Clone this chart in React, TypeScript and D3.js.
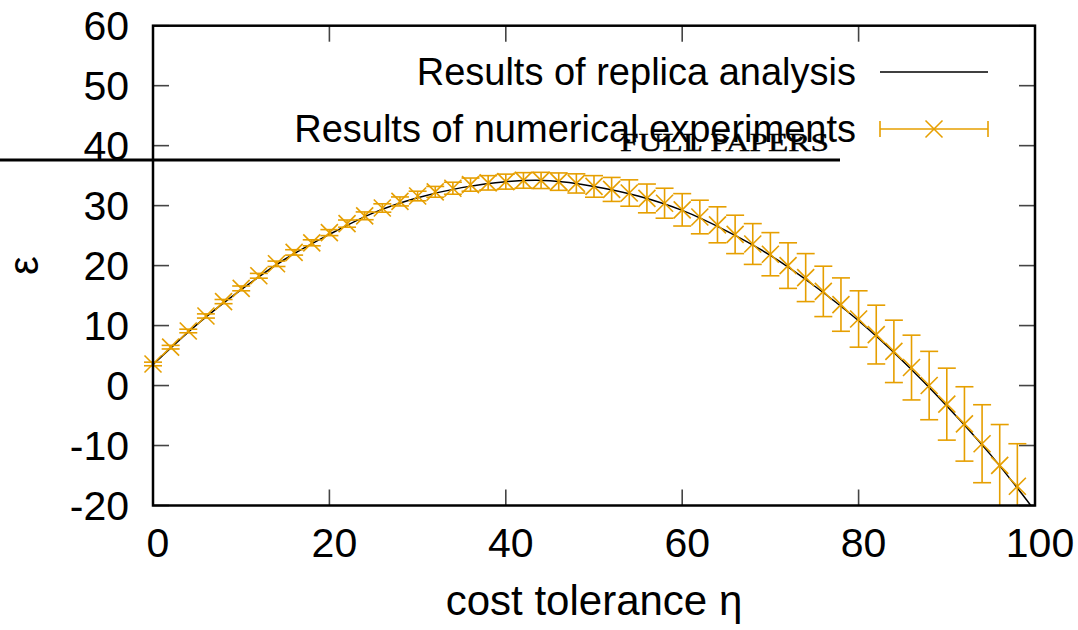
import React from "react";
import * as d3 from "d3";

// ---------- data ----------
const expEta = [0, 2, 4, 6, 8, 10, 12, 14, 16, 18, 20, 22, 24, 26, 28, 30, 32, 34, 36, 38, 40, 42, 44, 46, 48, 50, 52, 54, 56, 58, 60, 62, 64, 66, 68, 70, 72, 74, 76, 78, 80, 82, 84, 86, 88, 90, 92, 94, 96, 98];
const expEps = [3.6, 6.4, 9.1, 11.6, 14.0, 16.2, 18.3, 20.3, 22.2, 23.8, 25.5, 27.0, 28.3, 29.6, 30.7, 31.6, 32.3, 32.9, 33.5, 33.8, 34.0, 34.2, 34.2, 34.0, 33.7, 33.2, 32.7, 32.1, 31.2, 30.4, 29.3, 28.1, 26.8, 25.2, 23.6, 21.9, 20.0, 18.0, 15.7, 13.5, 11.1, 8.5, 5.7, 3.0, 0.0, -3.1, -6.4, -9.7, -13.3, -16.8];
const expErr = [0.3, 0.3, 0.3, 0.35, 0.35, 0.4, 0.4, 0.45, 0.45, 0.5, 0.5, 0.6, 0.65, 0.7, 0.75, 0.8, 0.9, 1.0, 1.1, 1.2, 1.25, 1.3, 1.35, 1.45, 1.6, 1.8, 2.0, 2.2, 2.4, 2.5, 2.7, 2.8, 3.0, 3.2, 3.4, 3.6, 3.8, 4.0, 4.2, 4.45, 4.7, 4.9, 5.2, 5.4, 5.7, 6.0, 6.2, 6.5, 6.8, 7.1];

const replicaEta = [0, 5, 10, 15, 20, 25, 30, 35, 40, 45, 50, 55, 60, 65, 70, 75, 80, 85, 90, 95, 100];
const replicaEps = [3.5, 10.2, 16.0, 21.1, 25.2, 28.8, 31.3, 33.0, 34.0, 34.15, 33.2, 31.6, 29.2, 25.8, 21.7, 16.6, 10.8, 4.1, -3.4, -11.6, -20.9];

const xTicks = [0, 20, 40, 60, 80, 100];
const yTicks = [-20, -10, 0, 10, 20, 30, 40, 50, 60];

const legendLabels = ["Results of replica analysis", "Results of numerical experiments"];
const xLabel = "cost tolerance η";
const yLabel = "ε";
const headerText = "FULL PAPERS";

// ---------- layout ----------
const W = 1078;
const H = 630;
const L = 153;
const R = 1035;
const T = 25.7;
const B = 505.5;
const ORANGE = "#E69F00";
const FONT = "'Liberation Sans', Arial, Helvetica, sans-serif";

export default function App() {
  const x = d3.scaleLinear().domain([0, 100]).range([L, R]);
  const y = d3.scaleLinear().domain([-20, 60]).range([B, T]);

  const line = d3
    .line<number>()
    .x((_, i) => x(replicaEta[i]))
    .y((d) => y(d))
    .curve(d3.curveCatmullRom.alpha(0.5));

  const tickLen = 16;
  const m = 8.5; // marker half size
  const cap = 9; // cap half width
  const clampY = (v: number) => Math.max(-20, Math.min(60, v));

  return (
    <svg
      width={W}
      height={H}
      style={{ position: "absolute", left: 0, top: 0, background: "#fff" }}
      fontFamily={FONT}
    >
      <defs>
        <clipPath id="plotClip">
          <rect x={L} y={T} width={R - L} height={B - T} />
        </clipPath>
      </defs>
      <rect x={0} y={0} width={W} height={H} fill="#fff" />

      {/* ticks */}
      <g stroke="#444" strokeWidth={1.6}>
        {xTicks.map((t) => (
          <g key={"xt" + t}>
            <line x1={x(t)} x2={x(t)} y1={B} y2={B - tickLen} />
            <line x1={x(t)} x2={x(t)} y1={T} y2={T + tickLen} />
          </g>
        ))}
        {yTicks.map((t) => (
          <g key={"yt" + t}>
            <line x1={L} x2={L + tickLen} y1={y(t)} y2={y(t)} />
            <line x1={R} x2={R - tickLen} y1={y(t)} y2={y(t)} />
          </g>
        ))}
      </g>

      {/* tick labels */}
      <g fontSize={41} fill="#000">
        {xTicks.map((t) => (
          <text key={"xl" + t} x={x(t) + 5} y={557} textAnchor="middle">
            {t}
          </text>
        ))}
        {yTicks.map((t) => (
          <text key={"yl" + t} x={129} y={y(t)} dy="0.36em" textAnchor="end">
            {t}
          </text>
        ))}
      </g>

      {/* axis labels */}
      <text x={(L + R) / 2} y={615} fontSize={42} textAnchor="middle">
        {xLabel}
      </text>
      <text
        transform={`translate(38, ${(T + B) / 2}) rotate(-90)`}
        fontSize={42}
        textAnchor="middle"
      >
        {yLabel}
      </text>

      {/* replica line */}
      <path
        d={line(replicaEps) || ""}
        fill="none"
        stroke="#000"
        strokeWidth={1.5}
        clipPath="url(#plotClip)"
      />

      {/* numerical experiments */}
      <g stroke={ORANGE} strokeWidth={1.6} fill="none">
        {expEta.map((e, i) => {
          const cx = x(e);
          const cy = y(expEps[i]);
          const lo = expEps[i] - expErr[i];
          const hi = expEps[i] + expErr[i];
          const ylo = y(clampY(lo));
          const yhi = y(clampY(hi));
          return (
            <g key={"p" + i}>
              <line x1={cx} x2={cx} y1={ylo} y2={yhi} />
              {lo >= -20 && <line x1={cx - cap} x2={cx + cap} y1={ylo} y2={ylo} />}
              {hi <= 60 && <line x1={cx - cap} x2={cx + cap} y1={yhi} y2={yhi} />}
              <line x1={cx - m} x2={cx + m} y1={cy - m} y2={cy + m} />
              <line x1={cx - m} x2={cx + m} y1={cy + m} y2={cy - m} />
            </g>
          );
        })}
      </g>

      {/* frame */}
      <rect x={L} y={T} width={R - L} height={B - T} fill="none" stroke="#000" strokeWidth={2.5} />

      {/* legend */}
      <g fontSize={38}>
        <text x={856} y={85} textAnchor="end">
          {legendLabels[0]}
        </text>
        <line x1={880} x2={988} y1={72} y2={72} stroke="#000" strokeWidth={1.5} />
        <text x={856} y={141.7} textAnchor="end">
          {legendLabels[1]}
        </text>
        <g stroke={ORANGE} strokeWidth={1.6}>
          <line x1={880} x2={988} y1={129} y2={129} />
          <line x1={880} x2={880} y1={121} y2={137} />
          <line x1={988} x2={988} y1={121} y2={137} />
          <line x1={934 - m} x2={934 + m} y1={129 - m} y2={129 + m} />
          <line x1={934 - m} x2={934 + m} y1={129 + m} y2={129 - m} />
        </g>
      </g>

      {/* header overlay */}
      <text
        x={620}
        y={151}
        fontFamily="'Liberation Serif', 'Times New Roman', serif"
        fontSize={26}
        textLength={209}
        lengthAdjust="spacingAndGlyphs"
        fill="#000"
        stroke="#000"
        strokeWidth={0.4}
      >
        {headerText}
      </text>
      <rect x={0} y={158.5} width={840} height={3} fill="#000" />
    </svg>
  );
}
